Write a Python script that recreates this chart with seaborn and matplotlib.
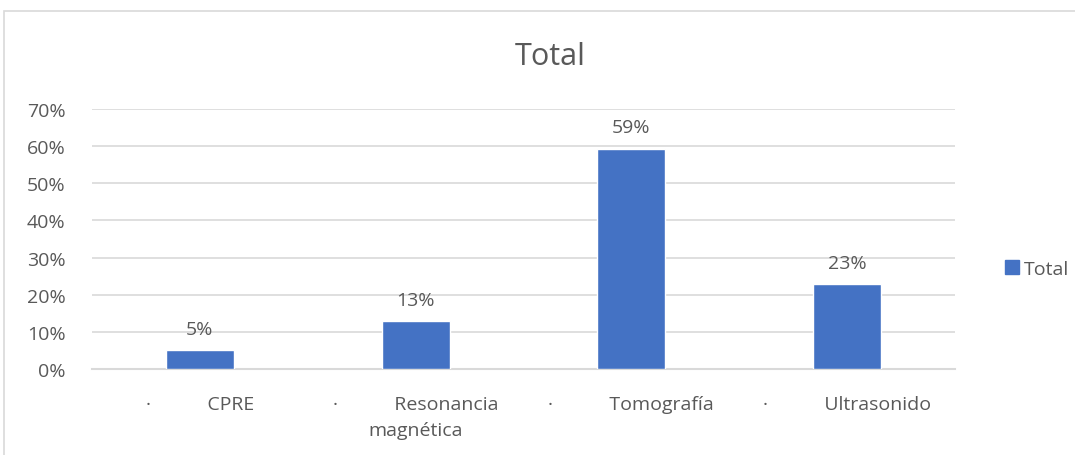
import matplotlib
matplotlib.use("Agg")
import matplotlib.pyplot as plt
from matplotlib.patches import Patch, Rectangle
import pandas as pd
import seaborn as sns

# datos
categorias = ["CPRE", "Resonancia magnética", "Tomografía", "Ultrasonido"]
etiquetas = ["·           CPRE", "·           Resonancia\nmagnética", "·           Tomografía", "·           Ultrasonido"]
valores = [0.051, 0.128, 0.593, 0.228]
serie = "Total"
yticks = [0, 0.1, 0.2, 0.3, 0.4, 0.5, 0.6, 0.7]

azul = "#4472C4"
gris_txt = "#595959"
gris_lin = "#D9D9D9"

sns.set_theme(style="white")
plt.rcParams["font.family"] = ["Open Sans", "DejaVu Sans"]

df = pd.DataFrame({"categoria": categorias, "valor": valores})

fig = plt.figure(figsize=(10.75, 4.56), dpi=100)
ax = fig.add_axes([92 / 1075, 1 - 370 / 456, (955 - 92) / 1075, 260 / 456])

sns.barplot(data=df, x="categoria", y="valor", color=azul, width=0.315,
            saturation=1, ax=ax, zorder=3)

ax.set_ylim(0, 0.7)
ax.set_xlim(-0.5, len(categorias) - 0.5)
ax.set_yticks(yticks)
ax.set_yticklabels([f"{v:.0%}" for v in yticks], fontsize=14, color=gris_txt)
ax.set_xticks(range(len(categorias)))
ax.set_xticklabels(etiquetas, fontsize=14, color=gris_txt,
                   multialignment="center", linespacing=1.55)
ax.tick_params(axis="both", length=0)
ax.tick_params(axis="x", pad=19)
ax.tick_params(axis="y", pad=19)
ax.set_xlabel("")
ax.set_ylabel("")
ax.grid(axis="y", color=gris_lin, linewidth=1.2, zorder=0)
for s in ["top", "right", "left"]:
    ax.spines[s].set_visible(False)
ax.spines["bottom"].set_color(gris_lin)
ax.spines["bottom"].set_linewidth(1.5)

for p, v in zip(ax.patches, valores):
    ax.annotate(f"{v:.0%}", (p.get_x() + p.get_width() / 2, p.get_height()),
                xytext=(0, 9), textcoords="offset points", ha="center", va="bottom",
                fontsize=14, color=gris_txt)

fig.text(550 / 1075, 1 - 57 / 456, "Total", fontsize=22, color=gris_txt,
         ha="center", va="center")

fig.legend(handles=[Patch(color=azul, label=serie)], loc="center left",
           bbox_to_anchor=(987 / 1075, 1 - 270 / 456), frameon=False,
           fontsize=14, handlelength=0.75, handleheight=0.75, handletextpad=0.25,
           labelcolor=gris_txt)

fig.patches.append(Rectangle((4 / 1075, -0.1), 1.2, 1 - 12 / 456 + 0.1,
                             transform=fig.transFigure, fill=False,
                             edgecolor=gris_lin, linewidth=1.2))

fig.savefig("out.png", dpi=100)
